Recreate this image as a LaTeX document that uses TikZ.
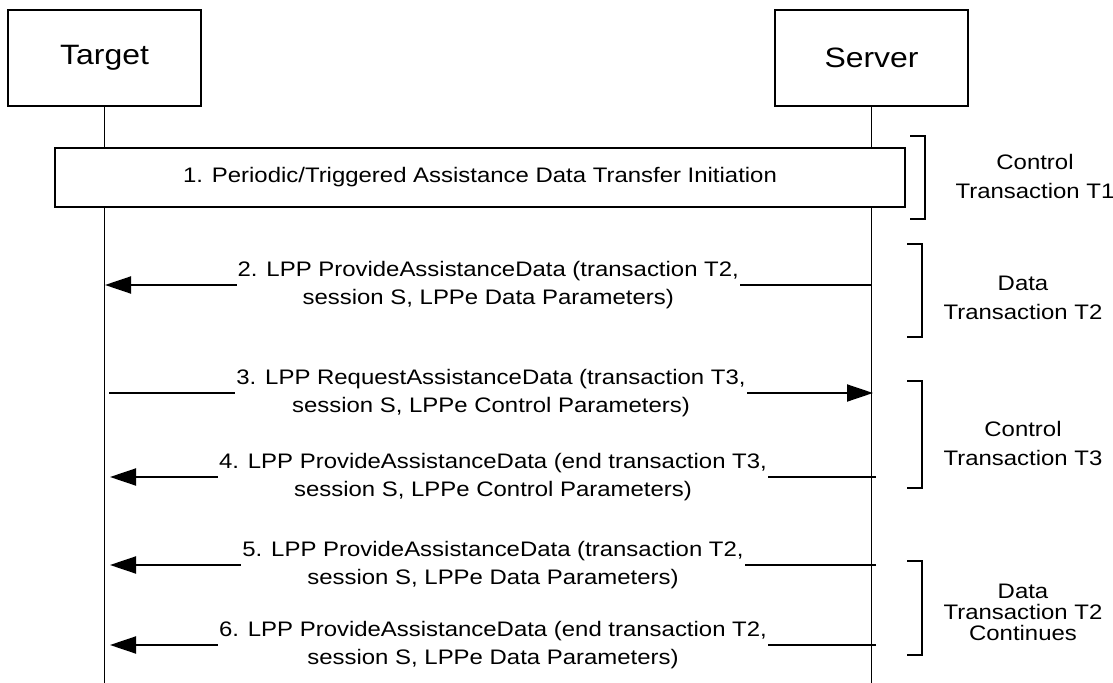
\documentclass[tikz,border=0pt]{standalone}
\usepackage{fontspec}
\setmainfont[FakeStretch=1.14]{Liberation Sans}
\usetikzlibrary{arrows.meta}
\begin{document}
\begin{tikzpicture}[x=1bp,y=-1bp,line width=1.9bp,
  entity/.style={draw,fill=white,minimum width=193bp,minimum height=96bp,inner sep=0pt,font=\fontsize{28bp}{32bp}\selectfont},
  stepbox/.style={draw,fill=white,minimum width=850bp,minimum height=59bp,inner sep=0pt,font=\fontsize{21bp}{28bp}\selectfont},
  msg/.style={fill=white,align=center,inner xsep=1bp,inner ysep=0pt,font=\fontsize{21bp}{28bp}\selectfont},
  arr/.style={-{Triangle[length=26bp,width=17bp]}},
  brlabel/.style={align=center,inner sep=0pt,font=\fontsize{21bp}{29bp}\selectfont}]
\useasboundingbox (0,0) rectangle (1113,683);
% entities and lifelines
\node[entity] (T) at (104.5,58) {Target};
\node[entity] (S) at (871.5,58) {Server};
\coordinate (Tend) at (104.5,683);
\coordinate (Send) at (871.5,683);
\draw (T.south) -- (Tend);
\draw (S.south) -- (Send);
% step 1
\node[stepbox] (m1) at (480,177.5) {1. Periodic/Triggered Assistance Data Transfer Initiation};
% message coordinates
\coordinate (s2) at (871.5,285); \coordinate (t2) at (105,285);
\coordinate (t3) at (109,393);   \coordinate (s3) at (873,393);
\coordinate (s4) at (876,477);   \coordinate (t4) at (110,477);
\coordinate (s5) at (876,565);   \coordinate (t5) at (110,565);
\coordinate (s6) at (876,645);   \coordinate (t6) at (110,645);
% messages
\draw[arr] (s2) -- node[msg] (l2) {2. LPP ProvideAssistanceData (transaction T2,\\session S, LPPe Data Parameters)} (t2);
\draw[arr] (t3) -- node[msg] (l3) {3. LPP RequestAssistanceData (transaction T3,\\session S, LPPe Control Parameters)} (s3);
\draw[arr] (s4) -- node[msg] (l4) {4. LPP ProvideAssistanceData (end transaction T3,\\session S, LPPe Control Parameters)} (t4);
\draw[arr] (s5) -- node[msg] (l5) {5. LPP ProvideAssistanceData (transaction T2,\\session S, LPPe Data Parameters)} (t5);
\draw[arr] (s6) -- node[msg] (l6) {6. LPP ProvideAssistanceData (end transaction T2,\\session S, LPPe Data Parameters)} (t6);
% brackets
\draw (910,136) -- (925,136) -- (925,219) -- (910,219);
\draw (907,244) -- (922,244) -- (922,337) -- (907,337);
\draw (907,381) -- (922,381) -- (922,488) -- (907,488);
\draw (907,561) -- (922,561) -- (922,655) -- (907,655);
% bracket labels
\node[brlabel] (b1) at (1035,176) {Control\\Transaction T1};
\node[brlabel] (b2) at (1023,298) {Data\\Transaction T2};
\node[brlabel] (b3) at (1023,443) {Control\\Transaction T3};
\node[brlabel,font=\fontsize{21bp}{21bp}\selectfont] (b4) at (1023,612) {Data\\Transaction T2\\Continues};
\end{tikzpicture}
\end{document}
